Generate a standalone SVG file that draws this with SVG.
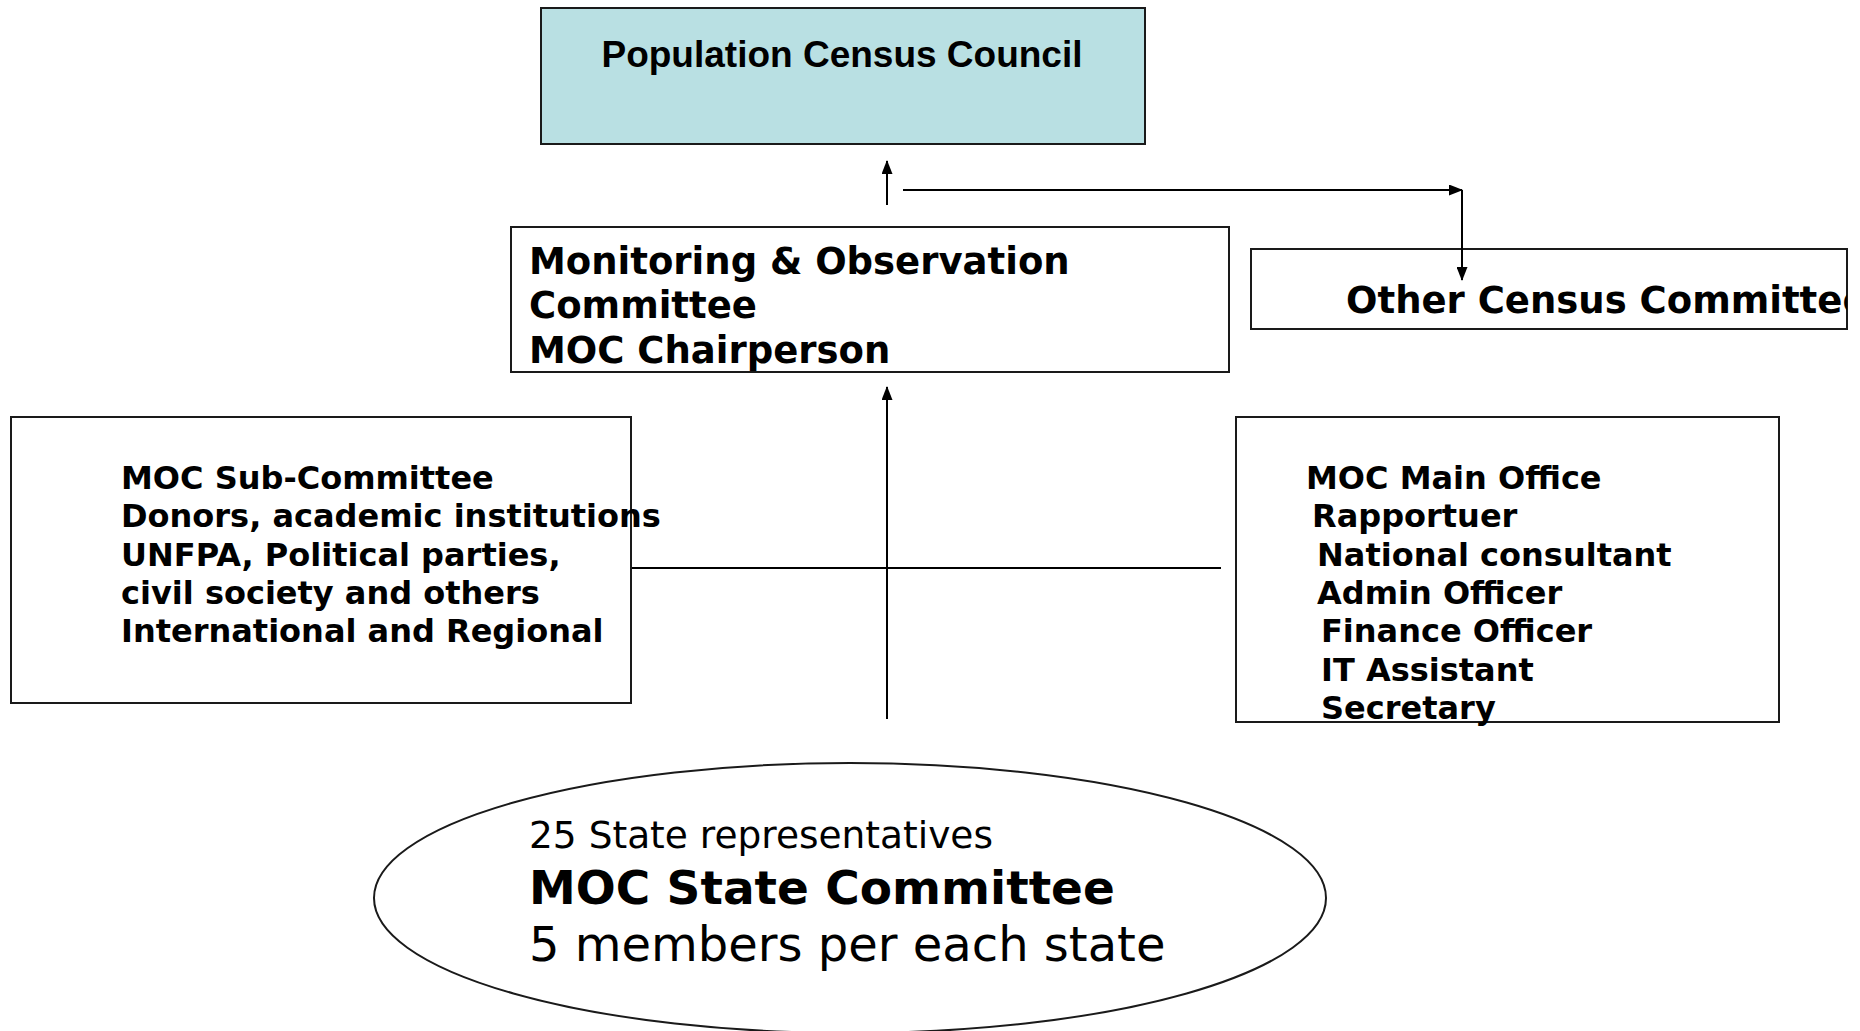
<svg xmlns="http://www.w3.org/2000/svg" width="1860" height="1031" viewBox="0 0 1860 1031">
<style>
.box{fill:#fff;stroke:#1a1a1a;stroke-width:2}
.t{font-family:"DejaVu Sans",Verdana,sans-serif;font-weight:bold;fill:#000}
.n{font-family:"DejaVu Sans",Verdana,sans-serif;fill:#000}
.a{font-family:"Liberation Sans",Arial,sans-serif;font-weight:bold;fill:#000}
.ln{stroke:#000;stroke-width:2;fill:none}
</style>
<defs>
<marker id="ah" markerWidth="14" markerHeight="11" refX="13" refY="5.5" orient="auto" markerUnits="userSpaceOnUse">
<path d="M0,0 L14,5.5 L0,11 z" fill="#000"/>
</marker>
<clipPath id="oc"><rect x="1251" y="249" width="596" height="80"/></clipPath>
</defs>
<rect width="1860" height="1031" fill="#fff"/>
<g id="council">
<rect x="541" y="8" width="604" height="136" fill="#b9e0e3" stroke="#1a1a1a" stroke-width="2"/>
<text class="a" x="842" y="67" font-size="37" text-anchor="middle">Population Census Council</text>
</g>
<g id="moc">
<rect class="box" x="511" y="227" width="718" height="145"/>
<text class="t" font-size="37"><tspan x="529" y="274">Monitoring &amp; Observation</tspan><tspan x="529" y="318">Committee</tspan><tspan x="529" y="363">MOC Chairperson</tspan></text>
</g>
<g id="other">
<rect class="box" x="1251" y="249" width="596" height="80"/>
<text class="t" font-size="37" x="1346" y="313" clip-path="url(#oc)">Other Census Committee</text>
</g>
<g id="sub">
<rect class="box" x="11" y="417" width="620" height="286"/>
<text class="t" font-size="32"><tspan x="121" y="489">MOC Sub-Committee</tspan><tspan x="121" y="527">Donors, academic institutions</tspan><tspan x="121" y="566">UNFPA, Political parties,</tspan><tspan x="121" y="604">civil society and others</tspan><tspan x="121" y="642">International and Regional</tspan></text>
</g>
<g id="office">
<rect class="box" x="1236" y="417" width="543" height="305"/>
<text class="t" font-size="32"><tspan x="1306" y="489">MOC Main Office</tspan><tspan x="1312" y="527">Rapportuer</tspan><tspan x="1317" y="566">National consultant</tspan><tspan x="1317" y="604">Admin Officer</tspan><tspan x="1321" y="642">Finance Officer</tspan><tspan x="1321" y="681">IT Assistant</tspan><tspan x="1321" y="719">Secretary</tspan></text>
</g>
<g id="state">
<ellipse cx="850" cy="898" rx="476" ry="135" fill="#fff" stroke="#1a1a1a" stroke-width="2"/>
<text class="n" font-size="37.5" x="529" y="848">25 State representatives</text>
<text class="t" font-size="47" x="529" y="904">MOC State Committee</text>
<text class="n" font-size="48" x="529" y="961">5 members per each state</text>
</g>
<g id="connectors">
<line class="ln" x1="887" y1="205" x2="887" y2="161" marker-end="url(#ah)"/>
<line class="ln" x1="903" y1="190" x2="1462" y2="190" marker-end="url(#ah)"/>
<line class="ln" x1="1462" y1="190" x2="1462" y2="280" marker-end="url(#ah)"/>
<line class="ln" x1="887" y1="719" x2="887" y2="387" marker-end="url(#ah)"/>
<line class="ln" x1="632" y1="568" x2="1221" y2="568"/>
</g>
</svg>
